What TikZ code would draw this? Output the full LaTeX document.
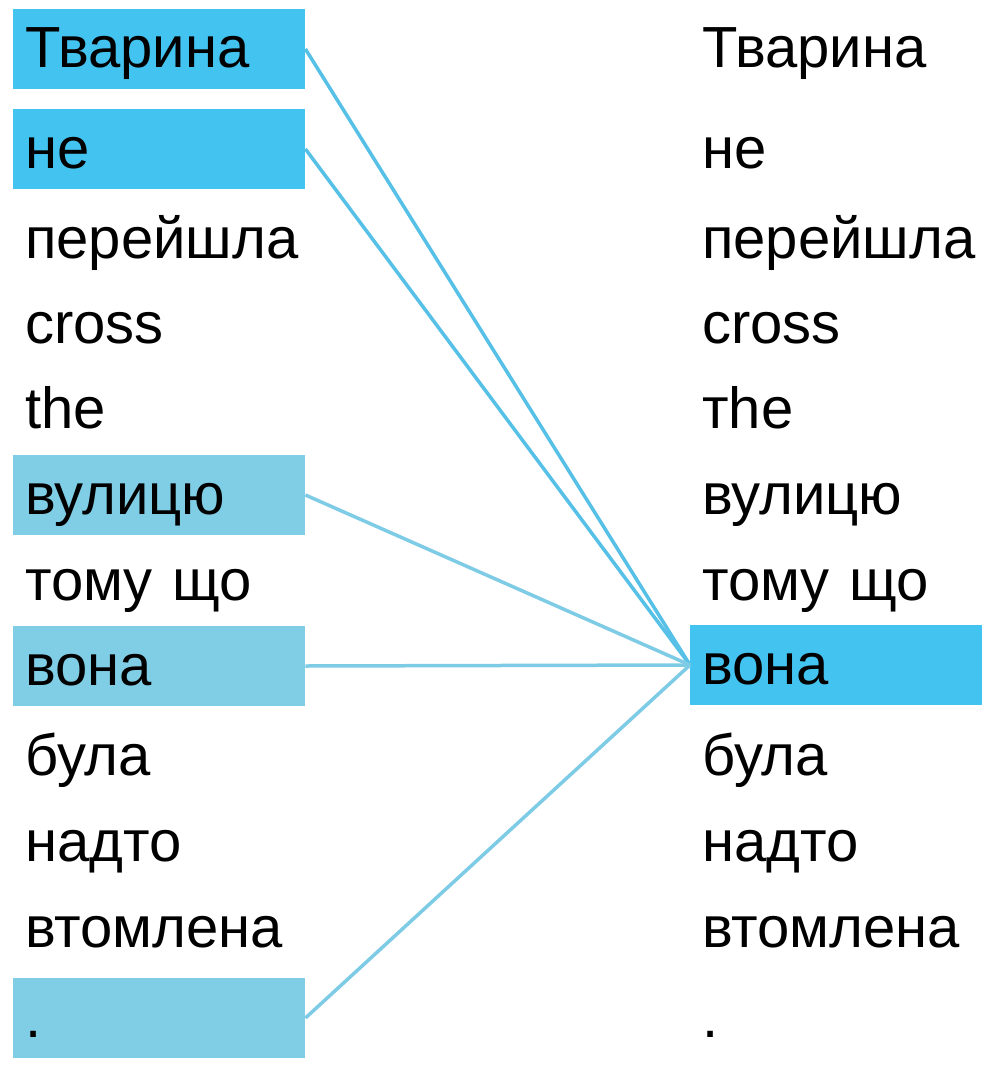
\documentclass[tikz,border=0pt]{standalone}
\usepackage{fontspec}
\setmainfont{Liberation Sans}
\definecolor{hotblue}{RGB}{66,195,240}
\definecolor{warmblue}{RGB}{128,206,230}
\definecolor{hotline}{RGB}{86,192,230}
\definecolor{warmline}{RGB}{126,203,230}

\begin{document}
\begin{tikzpicture}[x=1pt,y=-1pt]
			\tikzstyle{word}=[anchor=base west,inner xsep=12pt,inner ysep=9pt,
				text width=268pt,text height=50pt,text depth=12pt,
				font=\fontsize{58}{70}\selectfont]
			\tikzstyle{hot word}=[word,fill=hotblue]
			\tikzstyle{warm word}=[word,fill=warmblue]
			\tikzstyle{hot link}=[draw=hotline,line width=3.5pt]
			\tikzstyle{warm link}=[draw=warmline,line width=3.5pt]
			\useasboundingbox (0,0) rectangle (992,1070);
			% left sentence
			\node[hot word] (l1) at (13,68) {Тварина};
			\node[hot word] (l2) at (13,168) {не};
			\node[word] (l3) at (13,258) {перейшла};
			\node[word] (l4) at (13,343) {cross};
			\node[word] (l5) at (13,428) {the};
			\node[warm word] (l6) at (13,514) {вулицю};
			\node[word] (l7) at (13,600) {тому що};
			\node[warm word] (l8) at (13,685) {вона};
			\node[word] (l9) at (13,775) {була};
			\node[word] (l10) at (13,861) {надто};
			\node[word] (l11) at (13,947) {втомлена};
			\node[warm word] (l12) at (13,1037) {.};
			% right sentence
			\node[word] (r1) at (690,68) {Тварина};
			\node[word] (r2) at (690,168) {не};
			\node[word] (r3) at (690,258) {перейшла};
			\node[word] (r4) at (690,343) {cross};
			\node[word] (r5) at (690,428) {тhe};
			\node[word] (r6) at (690,514) {вулицю};
			\node[word] (r7) at (690,600) {тому що};
			\node[hot word] (r8) at (690,684) {вона};
			\node[word] (r9) at (690,775) {була};
			\node[word] (r10) at (690,861) {надто};
			\node[word] (r11) at (690,947) {втомлена};
			\node[word] (r12) at (690,1037) {.};
			% attention links
			\path[hot link] (l1.east) -- (r8.west);
			\path[hot link] (l2.east) -- (r8.west);
			\path[warm link] (l6.east) -- (r8.west);
			\path[warm link] (l8.east) -- (r8.west);
			\path[warm link] (l12.east) -- (r8.west);
		\end{tikzpicture}
\end{document}
